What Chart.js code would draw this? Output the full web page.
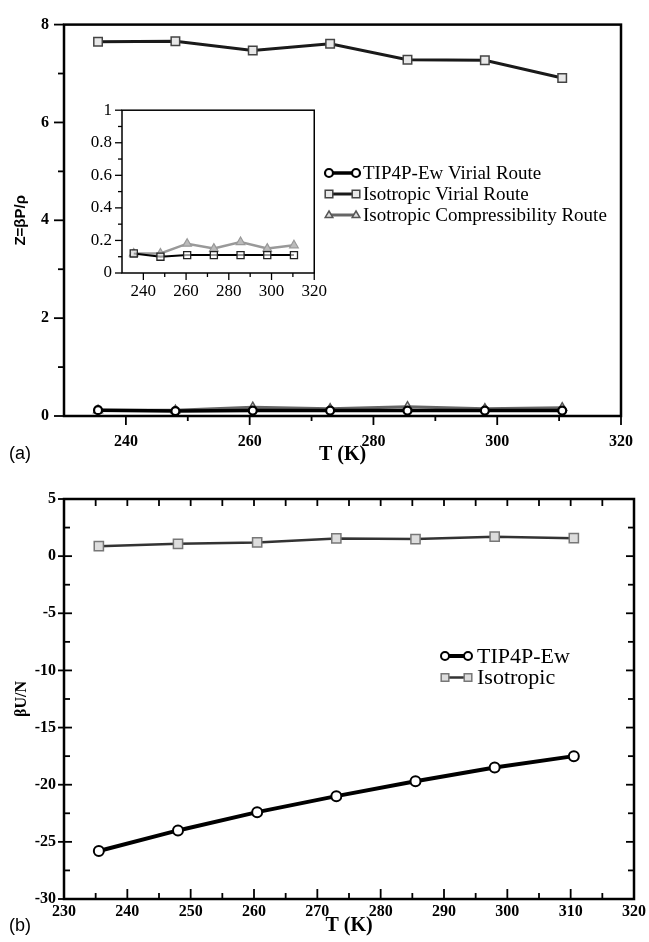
<!DOCTYPE html>
<html><head><meta charset="utf-8">
<script src="https://cdn.jsdelivr.net/npm/chart.js@4.4.1/dist/chart.umd.min.js"></script>
<style>
html,body{margin:0;padding:0;background:#fff;}
#wrap{position:relative;width:649px;height:942px;overflow:hidden;background:#fff;}
canvas{position:absolute;}
.pl{position:absolute;font-family:"Liberation Sans",Arial,sans-serif;font-size:18px;color:#000;line-height:22px;}
</style></head><body>
<div id="wrap">
<canvas id="cTop" width="649" height="470" style="left:0;top:0"></canvas>
<canvas id="cBot" width="649" height="472" style="left:0;top:470px"></canvas>
<canvas id="cInset" width="265" height="220" style="left:70px;top:90px"></canvas>
<div class="pl" style="left:9px;top:442px">(a)</div>
<div class="pl" style="left:9px;top:914px">(b)</div>
</div>
<script>
// ---------- data ----------
const temperatures = [235.5, 248, 260.5, 273, 285.5, 298, 310.5];
const zTip4pVirial = [0.12, 0.10, 0.11, 0.11, 0.11, 0.11, 0.11];
const zIsoVirial   = [7.65, 7.66, 7.47, 7.61, 7.28, 7.27, 6.91];
const zIsoCompress = [0.12, 0.12, 0.18, 0.15, 0.19, 0.15, 0.17];
const uTip4p       = [-25.8, -24.0, -22.4, -21.0, -19.7, -18.5, -17.5];
const uIsotropic   = [0.87, 1.08, 1.20, 1.55, 1.49, 1.70, 1.57];

// tick labels
const topXLabels   = [240, 260, 280, 300, 320];
const topXMinor    = [250, 270, 290, 310];
const topYLabels   = [0, 2, 4, 6, 8];
const topYMinor    = [1, 3, 5, 7];
const insetXLabels = [240, 260, 280, 300, 320];
const insetXMinor  = [250, 270, 290, 310];
const insetYLabels = [0, 0.2, 0.4, 0.6, 0.8, 1];
const insetYMinor  = [0.1, 0.3, 0.5, 0.7, 0.9];
const botXLabels   = [230, 240, 250, 260, 270, 280, 290, 300, 310, 320];
const botXMinor    = [235, 245, 255, 265, 275, 285, 295, 305, 315];
const botYLabels   = [-30, -25, -20, -15, -10, -5, 0, 5];
const botYMinor    = [-27.5, -22.5, -17.5, -12.5, -7.5, -2.5, 2.5];

const pts = arr => temperatures.map((t, i) => ({x: t, y: arr[i]}));

// ---------- helpers / plugins ----------
function drawMarker(ctx, style, x, y, r, fill, stroke, lw) {
  ctx.beginPath();
  if (style === 'circle') ctx.arc(x, y, r, 0, Math.PI * 2);
  else if (style === 'rect') { const s = r * 0.95; ctx.rect(x - s, y - s, 2 * s, 2 * s); }
  else { ctx.moveTo(x, y - r); ctx.lineTo(x + r * 0.95, y + r * 0.6); ctx.lineTo(x - r * 0.95, y + r * 0.6); ctx.closePath(); }
  ctx.fillStyle = fill; ctx.fill();
  ctx.strokeStyle = stroke; ctx.lineWidth = lw; ctx.stroke();
}

const frameTicks = {
  id: 'frameTicks',
  afterDraw(chart, args, o) {
    const {ctx, chartArea: a} = chart;
    const xs = chart.scales.x, ys = chart.scales.y;
    ctx.save();
    ctx.strokeStyle = '#000';
    ctx.lineWidth = o.tickWidth || 1.5;
    (o.marks || []).forEach(m => {
      m.values.forEach(v => {
        ctx.beginPath();
        if (m.side === 'bottom') { const p = xs.getPixelForValue(v); ctx.moveTo(p, a.bottom - (m.inLen||0)); ctx.lineTo(p, a.bottom + (m.outLen||0)); }
        if (m.side === 'top')    { const p = xs.getPixelForValue(v); ctx.moveTo(p, a.top + (m.inLen||0)); ctx.lineTo(p, a.top - (m.outLen||0)); }
        if (m.side === 'left')   { const p = ys.getPixelForValue(v); ctx.moveTo(a.left + (m.inLen||0), p); ctx.lineTo(a.left - (m.outLen||0), p); }
        if (m.side === 'right')  { const p = ys.getPixelForValue(v); ctx.moveTo(a.right - (m.inLen||0), p); ctx.lineTo(a.right + (m.outLen||0), p); }
        ctx.stroke();
      });
    });
    ctx.lineWidth = o.frameWidth || 2;
    ctx.strokeRect(a.left, a.top, a.right - a.left, a.bottom - a.top);
    ctx.restore();
  }
};

const figLegend = {
  id: 'figLegend',
  afterDraw(chart, args, o) {
    if (!o || !o.items) return;
    const ctx = chart.ctx;
    o.items.forEach((di, i) => {
      const ds = chart.data.datasets[di];
      const y = o.y0 + i * o.dy;
      ctx.save();
      ctx.strokeStyle = ds.borderColor; ctx.lineWidth = ds.borderWidth;
      ctx.beginPath(); ctx.moveTo(o.x0, y); ctx.lineTo(o.x1, y); ctx.stroke();
      [o.x0, o.x1].forEach(x => drawMarker(ctx, ds.pointStyle, x, y, o.r, ds.pointBackgroundColor, ds.pointBorderColor, ds.pointBorderWidth));
      ctx.fillStyle = '#000'; ctx.font = o.font; ctx.textBaseline = 'middle'; ctx.textAlign = 'left';
      ctx.fillText(ds.label, o.tx, y + 1);
      ctx.restore();
    });
  }
};

Chart.defaults.font.family = '"Liberation Serif", "Times New Roman", serif';
Chart.defaults.color = '#000';

function axis(min, max, labels, fitSize, isX, tickFont, pad, title) {
  const a = {
    type: 'linear', min, max,
    grid: {display: false, drawTicks: false},
    border: {display: false},
    afterBuildTicks: s => { s.ticks = labels.map(v => ({value: v})); },
    afterFit: s => { if (isX) s.height = fitSize; else s.width = fitSize; },
    ticks: {autoSkip: false, maxRotation: 0, padding: pad, color: '#000', font: tickFont,
            callback: v => String(v)},
  };
  if (title) a.title = title;
  return a;
}

const boldSerif = {family: '"Liberation Serif", serif', weight: 'bold', size: 16};

// ---------- top chart ----------
new Chart(document.getElementById('cTop'), {
  type: 'line',
  data: {datasets: [
    {label: 'TIP4P-Ew Virial Route', data: pts(zTip4pVirial), borderColor: '#000', borderWidth: 3.5,
     pointStyle: 'circle', pointRadius: 4, pointBackgroundColor: '#fff', pointBorderColor: '#000', pointBorderWidth: 2.2},
    {label: 'Isotropic Virial Route', data: pts(zIsoVirial), borderColor: '#1a1a1a', borderWidth: 3,
     pointStyle: 'rect', pointRadius: 6, pointBackgroundColor: '#e8e8e8', pointBorderColor: '#444', pointBorderWidth: 1.5},
    {label: 'Isotropic Compressibility Route', data: pts(zIsoCompress), borderColor: '#666', borderWidth: 3,
     pointStyle: 'triangle', pointRadius: 5, pointBackgroundColor: '#ddd', pointBorderColor: '#555', pointBorderWidth: 1.5},
  ]},
  options: {
    responsive: false, animation: false, devicePixelRatio: 1, events: [],
    layout: {padding: {top: 16, right: 19, left: 0, bottom: 0}},
    plugins: {
      legend: {display: false}, tooltip: {enabled: false},
      frameTicks: {frameWidth: 2.5, tickWidth: 1.8, marks: [
        {side: 'left', values: topYLabels, outLen: 10},
        {side: 'left', values: topYMinor, outLen: 6},
        {side: 'bottom', values: topXLabels, outLen: 9},
        {side: 'bottom', values: topXMinor, outLen: 5},
      ]},
      figLegend: {items: [0, 1, 2], x0: 329, x1: 356, tx: 363, y0: 173, dy: 21, r: 4, font: '19px "Liberation Serif", serif'},
    },
    scales: {
      x: axis(230, 320, topXLabels, 54, true, boldSerif, 16,
        {display: true, text: 'T (K)', color: '#000', font: {family: '"Liberation Serif", serif', weight: 'bold', size: 20}, padding: {top: 0, bottom: 3}}),
      y: axis(0, 8, topYLabels, 64, false, boldSerif, 15,
        {display: true, text: 'Z=βP/ρ', color: '#000', font: {family: '"Liberation Sans", Arial, sans-serif', weight: 'bold', size: 15}, padding: {top: 12, bottom: 0}}),
    }
  },
  plugins: [frameTicks, figLegend]
});

// ---------- inset ----------
new Chart(document.getElementById('cInset'), {
  type: 'line',
  data: {datasets: [
    {label: 'TIP4P-Ew Virial Route', data: pts(zTip4pVirial), borderColor: '#000', borderWidth: 2,
     pointStyle: 'rect', pointRadius: 5, pointBackgroundColor: 'rgba(255,255,255,0.6)', pointBorderColor: '#222', pointBorderWidth: 1.3},
    {label: 'Isotropic Virial Route', data: pts(zIsoVirial), borderColor: '#222', borderWidth: 2,
     pointStyle: 'rect', pointRadius: 5, pointBackgroundColor: '#e4e4e4', pointBorderColor: '#444', pointBorderWidth: 1.3},
    {label: 'Isotropic Compressibility Route', data: pts(zIsoCompress), borderColor: '#999', borderWidth: 2.5,
     pointStyle: 'triangle', pointRadius: 5, pointBackgroundColor: '#bbb', pointBorderColor: '#999', pointBorderWidth: 1.2},
  ]},
  options: {
    responsive: false, animation: false, devicePixelRatio: 1, events: [],
    layout: {padding: {top: 12, right: 17, left: 0, bottom: 0}},
    plugins: {
      legend: {display: false}, tooltip: {enabled: false},
      frameTicks: {frameWidth: 1.5, tickWidth: 1.3, marks: [
        {side: 'left', values: insetYLabels, outLen: 7},
        {side: 'left', values: insetYMinor, outLen: 4},
        {side: 'bottom', values: insetXLabels, outLen: 7},
        {side: 'bottom', values: insetXMinor, outLen: 4},
      ]},
    },
    scales: {
      x: axis(230, 320, insetXLabels, 37, true, {family: '"Liberation Serif", serif', size: 17}, 8),
      y: axis(0, 1, insetYLabels, 52, false, {family: '"Liberation Serif", serif', size: 17}, 10),
    }
  },
  plugins: [frameTicks]
});

// ---------- bottom chart ----------
new Chart(document.getElementById('cBot'), {
  type: 'line',
  data: {datasets: [
    {label: 'TIP4P-Ew', data: pts(uTip4p), borderColor: '#000', borderWidth: 4,
     pointStyle: 'circle', pointRadius: 5, pointBackgroundColor: '#fff', pointBorderColor: '#000', pointBorderWidth: 2},
    {label: 'Isotropic', data: pts(uIsotropic), borderColor: '#333', borderWidth: 2.5,
     pointStyle: 'rect', pointRadius: 6.5, pointBackgroundColor: '#ddd', pointBorderColor: '#777', pointBorderWidth: 1.5},
  ]},
  options: {
    responsive: false, animation: false, devicePixelRatio: 1, events: [],
    layout: {padding: {top: 29, right: 13, left: 0, bottom: 0}},
    plugins: {
      legend: {display: false}, tooltip: {enabled: false},
      frameTicks: {frameWidth: 2.5, tickWidth: 1.8, marks: [
        {side: 'left', values: botYLabels, outLen: 6, inLen: 8},
        {side: 'left', values: botYMinor, inLen: 6},
        {side: 'right', values: botYLabels, inLen: 8},
        {side: 'right', values: botYMinor, inLen: 6},
        {side: 'bottom', values: botXLabels, inLen: 10},
        {side: 'bottom', values: botXMinor, inLen: 6},
        {side: 'top', values: botXLabels, inLen: 7},
        {side: 'top', values: botXMinor, inLen: 7},
      ]},
      figLegend: {items: [0, 1], x0: 445, x1: 468, tx: 477, y0: 186, dy: 21.5, r: 4, font: '22px "Liberation Serif", serif'},
    },
    scales: {
      x: axis(230, 320, botXLabels, 43, true, boldSerif, 3,
        {display: true, text: 'T (K)', color: '#000', font: {family: '"Liberation Serif", serif', weight: 'bold', size: 20}, padding: {top: 0, bottom: 4}}),
      y: axis(-30, 5, botYLabels, 64, false, boldSerif, 8,
        {display: true, text: 'βU/N', color: '#000', font: {family: '"Liberation Serif", serif', weight: 'bold', size: 16}, padding: {top: 12, bottom: 0}}),
    }
  },
  plugins: [frameTicks, figLegend]
});
</script>
</body></html>
